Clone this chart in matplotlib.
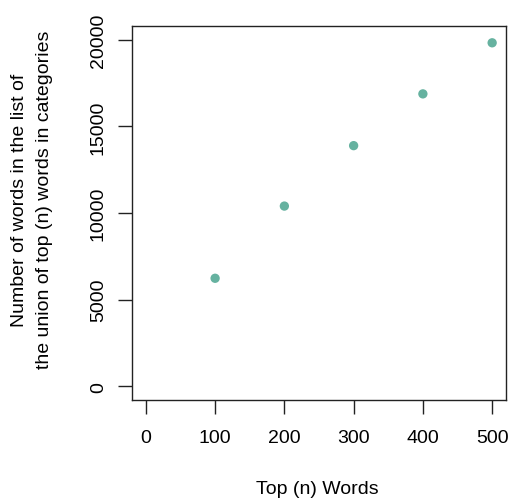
import matplotlib
matplotlib.use("Agg")
import matplotlib.pyplot as plt

top_n = [100, 200, 300, 400, 500]
n_words = [6230, 10400, 13890, 16880, 19830]
x_ticks = [0, 100, 200, 300, 400, 500]
y_ticks = [0, 5000, 10000, 15000, 20000]

plt.rcParams['font.family'] = ['Liberation Sans', 'DejaVu Sans']
W, H = 509, 502
fig = plt.figure(figsize=(W / 100, H / 100), dpi=100)
ax = fig.add_axes([132 / W, 1 - 401 / H, 374 / W, 374 / H])

ax.scatter(top_n, n_words, s=45, color='#66b2a0', edgecolors='none', zorder=3)
ax.set_xlim(-20, 520)
ax.set_ylim(-800, 20800)
ax.set_xticks(x_ticks)
ax.set_yticks(y_ticks)
ax.set_yticklabels([str(v) for v in y_ticks], rotation=90, va='center')
ax.tick_params(direction='out', length=10, width=1, labelsize=14, color='#222222')
ax.tick_params(axis='x', pad=11)
ax.tick_params(axis='y', pad=8)
for s in ax.spines.values():
    s.set_linewidth(1)
    s.set_color('#222222')

def px(x, y):
    return x / W, 1 - y / H

fig.text(*px(317, 490), 'Top (n) Words', ha='center', va='center', fontsize=14)
fig.text(*px(20, 200), 'Number of words in the list of', rotation=90,
         ha='center', va='center', fontsize=14)
fig.text(*px(45, 200), 'the union of top (n) words in categories', rotation=90,
         ha='center', va='center', fontsize=14)

fig.savefig('out.png', dpi=100)
